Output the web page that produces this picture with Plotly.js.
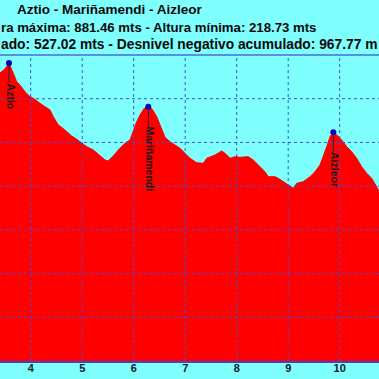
<!DOCTYPE html>
<html>
<head>
<meta charset="utf-8">
<script src="https://cdn.plot.ly/plotly-3.0.1.min.js"></script>
<style>html,body{margin:0;padding:0;background:#80ffff;}#chart{width:379px;height:379px;}</style>
</head>
<body>
<div id="chart"></div>
<script>
const km = [3.35, 3.404, 3.50, 3.579, 3.662, 3.728, 3.792, 3.889, 3.987, 4.051, 4.181, 4.278, 4.375, 4.439, 4.536, 4.602, 4.699, 4.796, 4.893, 4.990, 5.087, 5.216, 5.346, 5.443, 5.501, 5.604, 5.701, 5.831, 5.928, 5.992, 6.058, 6.122, 6.206, 6.284, 6.361, 6.447, 6.544, 6.608, 6.705, 6.802, 6.899, 6.996, 7.093, 7.223, 7.352, 7.418, 7.482, 7.579, 7.709, 7.773, 7.870, 7.967, 8.064, 8.225, 8.322, 8.453, 8.550, 8.614, 8.744, 8.808, 8.905, 9.035, 9.099, 9.165, 9.293, 9.423, 9.520, 9.618, 9.682, 9.748, 9.812, 9.876, 9.942, 10.039, 10.136, 10.233, 10.330, 10.427, 10.524, 10.621, 10.719, 10.763, 10.85];
const elev = [845, 858.8, 868, 881.46, 858.1, 838.9, 831.4, 816.1, 804.6, 801.0, 789.5, 781.8, 774.2, 758.9, 739.9, 734.6, 724.5, 714.7, 707.2, 699.4, 690.2, 682.7, 670.1, 659.8, 657.5, 668.9, 682.7, 698.0, 705.6, 728.4, 747.4, 762.7, 778.1, 781.7, 775.8, 758.9, 732.3, 711.7, 701.7, 694.1, 686.6, 675.1, 663.7, 653.6, 652.3, 663.7, 666.0, 671.2, 680.4, 675.1, 663.7, 667.4, 666.0, 667.4, 659.8, 644.5, 633.0, 621.6, 621.6, 617.9, 610.2, 598.7, 595.1, 606.5, 610.2, 621.6, 633.0, 648.4, 667.4, 690.2, 713.1, 723.2, 717.0, 705.6, 690.2, 678.8, 663.7, 644.5, 629.4, 617.9, 598.7, 587.3, 570];

// Named summits
const peakNames = ["Aztio", "Mariñamendi", "Aizleor"];
const peakKm = [3.579, 6.284, 9.876];
const peakElev = [881.46, 781.7, 723.2];

// Axis ticks
const xTicks = [4, 5, 6, 7, 8, 9, 10];
const xTickLabels = ["4", "5", "6", "7", "8", "9", "10"];
const yGrid = [300, 400, 500, 600, 700, 800];

// Title lines (visible part of the cropped header)
const titleLines = [
  "Aztio - Mariñamendi - Aizleor",
  "ra máxima: 881.46 mts - Altura mínima: 218.73 mts",
  "ado: 527.02 mts - Desnivel negativo acumulado: 967.77 m"
];

const FONT = "Liberation Sans, Arial, sans-serif";
const GRID = "#3355dd";

const traces = [
  {
    x: km, y: elev, type: "scatter", mode: "lines",
    fill: "tozeroy", fillcolor: "#ff0000",
    line: {color: "#ff0000", width: 1},
    hoverinfo: "skip", showlegend: false
  },
  {
    x: peakKm, y: peakElev, type: "scatter", mode: "markers",
    marker: {color: "#0000cc", size: 6},
    showlegend: false
  }
];

const shapes = [];
xTicks.forEach(v => shapes.push({type: "line", layer: "above", xref: "x", yref: "paper", x0: v, x1: v, y0: 0, y1: 1, line: {color: GRID, width: 1, dash: "dot"}}));
yGrid.forEach(v => shapes.push({type: "line", layer: "above", xref: "paper", yref: "y", x0: 0, x1: 1, y0: v, y1: v, line: {color: GRID, width: 1, dash: "dot"}}));
// top frame line
shapes.push({type: "line", layer: "above", xref: "paper", yref: "paper", x0: 0, x1: 1, y0: 1, y1: 1, line: {color: "#5b8de8", width: 2}});
// summit leader lines
peakKm.forEach((v, i) => shapes.push({type: "line", layer: "above", xref: "x", yref: "y", ysizemode: "pixel", yanchor: peakElev[i], x0: v, x1: v, y0: 0, y1: -20, line: {color: "#222244", width: 1}}));

const annotations = [];
peakNames.forEach((n, i) => annotations.push({
  x: peakKm[i], y: peakElev[i], xref: "x", yref: "y", text: n, showarrow: false,
  textangle: 90, xanchor: "center", yanchor: "top", xshift: 1.5, yshift: -19,
  font: {family: FONT, size: 10.5, color: "#1a1a1a", weight: "bold"}, borderpad: 0
}));
const tFont = (s) => ({family: FONT, size: s, color: "#0a0a0a", weight: "bold"});
annotations.push({xref: "paper", yref: "paper", x: 16/379, y: 1, yshift: 46, xanchor: "left", yanchor: "middle", text: titleLines[0], showarrow: false, font: tFont(13.5), borderpad: 0});
annotations.push({xref: "paper", yref: "paper", x: 0, y: 1, yshift: 28, xanchor: "left", yanchor: "middle", text: titleLines[1], showarrow: false, font: tFont(13.2), borderpad: 0});
annotations.push({xref: "paper", yref: "paper", x: 0, y: 1, yshift: 11, xanchor: "left", yanchor: "middle", text: titleLines[2], showarrow: false, font: tFont(13.8), borderpad: 0});

const layout = {
  width: 379, height: 379,
  margin: {l: 0, r: 0, t: 55, b: 18, pad: 0},
  paper_bgcolor: "#80ffff", plot_bgcolor: "#80ffff",
  showlegend: false,
  xaxis: {
    range: [3.404, 10.763], tickvals: xTicks, ticktext: xTickLabels,
    showgrid: false, zeroline: false, showline: true, linecolor: "#4b3fbf", linewidth: 1.5,
    ticks: "", ticklabelstandoff: -4,
    tickfont: {family: FONT, size: 11, color: "#112222", weight: "bold"}, fixedrange: true
  },
  yaxis: {
    range: [200, 900], showgrid: false, zeroline: false, showticklabels: false, showline: false,
    ticks: "", fixedrange: true
  },
  shapes: shapes,
  annotations: annotations
};

Plotly.newPlot("chart", traces, layout, {staticPlot: true, displayModeBar: false});
</script>
</body>
</html>
